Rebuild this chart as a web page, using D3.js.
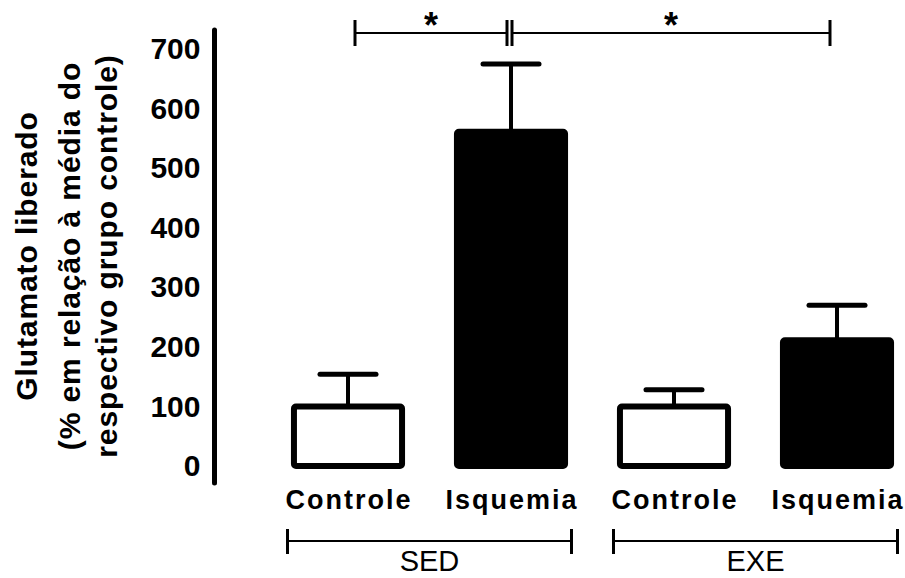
<!DOCTYPE html>
<html>
<head>
<meta charset="utf-8">
<script src="https://cdn.jsdelivr.net/npm/d3@7"></script>
<style>
  body { margin: 0; background: #fff; }
  text { font-family: "Liberation Sans", Arial, sans-serif; }
</style>
</head>
<body>
<div id="chart"></div>
<script>
// chart values
const categories = ["Controle", "Isquemia", "Controle", "Isquemia"];
const groupOf = ["SED", "SED", "EXE", "EXE"];
const means = [100, 561, 100, 211];
const sem = [54, 114, 28, 59];
const filled = [false, true, false, true];
const groups = ["SED", "EXE"];
const yTicks = [0, 100, 200, 300, 400, 500, 600, 700];
const comparisons = [[0, 1], [1, 3]];
const sigMarks = ["*", "*"];
const titleLines = ["Glutamato liberado", "(% em relação à média do", "respectivo grupo controle)"];

const width = 905, height = 578;

const svg = d3.select("#chart")
    .append("svg")
    .attr("width", width)
    .attr("height", height);

// scales
const xScale = d3.scaleBand()
    .domain(d3.range(categories.length))
    .range([266.5, 918.5])
    .paddingInner(0.3)
    .paddingOuter(0.15);

const yScale = d3.scaleLinear()
    .domain([0, 700])
    .range([466, 49]);

const bw = xScale.bandwidth();
const cx = i => xScale(i) + bw / 2;

// y axis: labels only, plus the thick line
const yAxis = d3.axisLeft(yScale).tickValues(yTicks).tickSize(0).tickPadding(14);
const gy = svg.append("g")
    .attr("transform", "translate(214.5,0)")
    .call(yAxis);
gy.select(".domain").remove();
gy.selectAll(".tick text")
    .attr("font-family", "Liberation Sans, Arial, sans-serif")
    .attr("font-size", 30)
    .attr("font-weight", "bold")
    .attr("fill", "#000");

svg.append("line")
    .attr("x1", 214.5).attr("x2", 214.5)
    .attr("y1", 30).attr("y2", 483)
    .attr("stroke", "#000")
    .attr("stroke-width", 5)
    .attr("stroke-linecap", "round");

// axis title, three rotated lines
const titleX = [37, 80, 117];
svg.selectAll(".ytitle")
    .data(titleLines)
    .enter()
    .append("text")
    .attr("class", "ytitle")
    .attr("transform", (d, i) => `translate(${titleX[i]},256) rotate(-90)`)
    .attr("text-anchor", "middle")
    .attr("font-size", 30)
    .attr("font-weight", "bold")
    .attr("letter-spacing", 0.9)
    .text(d => d);

// error bars (drawn first so the stem hides behind the bar)
const eb = svg.selectAll(".err")
    .data(means)
    .enter()
    .append("g")
    .attr("class", "err");
eb.append("line")
    .attr("x1", (d, i) => cx(i)).attr("x2", (d, i) => cx(i))
    .attr("y1", d => yScale(d))
    .attr("y2", (d, i) => yScale(d + sem[i]))
    .attr("stroke", "#000")
    .attr("stroke-width", 4);
eb.append("line")
    .attr("x1", (d, i) => cx(i) - 28).attr("x2", (d, i) => cx(i) + 28)
    .attr("y1", (d, i) => yScale(d + sem[i]))
    .attr("y2", (d, i) => yScale(d + sem[i]))
    .attr("stroke", "#000")
    .attr("stroke-width", 5)
    .attr("stroke-linecap", "round");

// bars
svg.selectAll(".bar")
    .data(means)
    .enter()
    .append("rect")
    .attr("class", "bar")
    .attr("x", (d, i) => xScale(i) + 3)
    .attr("width", bw - 6)
    .attr("y", d => yScale(d))
    .attr("height", d => yScale(0) - yScale(d))
    .attr("rx", 2)
    .attr("fill", (d, i) => filled[i] ? "#000" : "#fff")
    .attr("stroke", "#000")
    .attr("stroke-width", 6)
    .attr("stroke-linejoin", "round");

// category labels
svg.selectAll(".cat")
    .data(categories)
    .enter()
    .append("text")
    .attr("class", "cat")
    .attr("x", (d, i) => cx(i) + 1)
    .attr("y", 509)
    .attr("text-anchor", "middle")
    .attr("font-size", 27)
    .attr("font-weight", "bold")
    .attr("letter-spacing", 2)
    .text(d => d);

// group brackets under the labels
groups.forEach(g => {
    const idx = d3.range(categories.length).filter(i => groupOf[i] === g);
    const mid = (xScale(idx[0]) + xScale(idx[idx.length - 1]) + bw) / 2;
    const x0 = mid - 142, x1 = mid + 142;
    const gg = svg.append("g");
    gg.append("line")
        .attr("x1", x0).attr("x2", x1).attr("y1", 541).attr("y2", 541)
        .attr("stroke", "#000").attr("stroke-width", 2);
    [x0, x1].forEach(x => {
        gg.append("line")
            .attr("x1", x).attr("x2", x).attr("y1", 529).attr("y2", 554)
            .attr("stroke", "#000").attr("stroke-width", 3);
    });
    gg.append("text")
        .attr("x", mid)
        .attr("y", 571)
        .attr("text-anchor", "middle")
        .attr("font-size", 29)
        .text(g);
});

// significance brackets on top
comparisons.forEach((c, k) => {
    const x0 = cx(c[0]) + (k === 0 ? 7 : 1);
    const x1 = cx(c[1]) - (k === 0 ? 4 : 7);
    const gs = svg.append("g");
    gs.append("line")
        .attr("x1", x0).attr("x2", x1).attr("y1", 33).attr("y2", 33)
        .attr("stroke", "#000").attr("stroke-width", 2);
    [x0, x1].forEach(x => {
        gs.append("line")
            .attr("x1", x).attr("x2", x).attr("y1", 20).attr("y2", 46)
            .attr("stroke", "#000").attr("stroke-width", 3);
    });
    gs.append("text")
        .attr("x", (x0 + x1) / 2)
        .attr("y", 38)
        .attr("text-anchor", "middle")
        .attr("font-size", 36)
        .attr("font-weight", "bold")
        .text(sigMarks[k]);
});
</script>
</body>
</html>
